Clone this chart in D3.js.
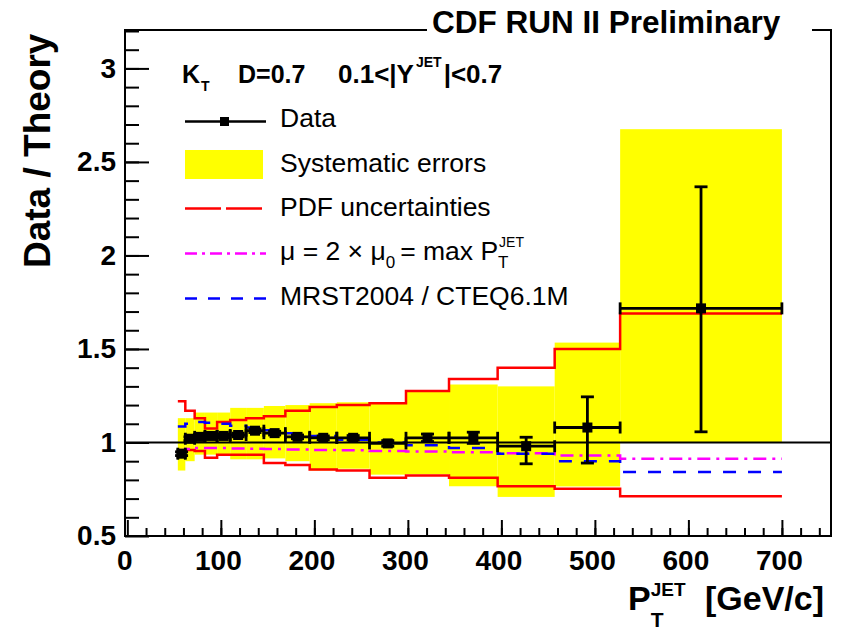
<!DOCTYPE html>
<html>
<head>
<meta charset="utf-8">
<script src="https://cdn.jsdelivr.net/npm/d3@7/dist/d3.min.js"></script>
<style>
  body { margin: 0; background: #fff; }
  svg { display: block; }
  text { font-family: "Liberation Sans", Arial, Helvetica, sans-serif; fill: #000; }
</style>
</head>
<body>
<div id="chart"></div>
<script>
// pT bin edges (GeV/c)
var binEdges = [54, 62, 72, 83, 96, 110, 127, 146, 169, 195, 224, 259, 298, 344, 396, 457, 527, 700];

// data / theory per bin
var dataRatio = [0.94, 1.02, 1.03, 1.035, 1.035, 1.04, 1.063, 1.05, 1.03, 1.025, 1.025, 0.995, 1.025, 1.025, 0.98, 1.08, 1.717];
var statUp    = [0.01, 0.01, 0.01, 0.01, 0.01, 0.01, 0.01, 0.01, 0.01, 0.01, 0.012, 0.015, 0.02, 0.03, 0.048, 0.164, 0.65];
var statDown  = [0.01, 0.01, 0.01, 0.01, 0.01, 0.01, 0.01, 0.01, 0.01, 0.01, 0.012, 0.015, 0.02, 0.03, 0.094, 0.19, 0.66];

// systematic error band
var sysLow  = [0.85, 0.90, 0.935, 0.935, 0.935, 0.91, 0.91, 0.915, 0.90, 0.85, 0.86, 0.828, 0.83, 0.766, 0.709, 0.765, 1.0];
var sysHigh = [1.13, 1.13, 1.16, 1.16, 1.16, 1.185, 1.185, 1.195, 1.20, 1.21, 1.215, 1.21, 1.27, 1.31, 1.30, 1.534, 2.675];

// PDF uncertainties
var pdfLow  = [0.955, 0.96, 0.955, 0.918, 0.935, 0.935, 0.935, 0.89, 0.88, 0.855, 0.85, 0.811, 0.823, 0.811, 0.766, 0.752, 0.712];
var pdfHigh = [1.22, 1.17, 1.13, 1.075, 1.11, 1.12, 1.13, 1.14, 1.17, 1.19, 1.20, 1.21, 1.275, 1.34, 1.40, 1.50, 1.69];

// mu = 2 x mu0 and MRST2004 / CTEQ6.1M
var scaleRatio = [0.96, 0.965, 0.97, 0.97, 0.97, 0.968, 0.966, 0.965, 0.963, 0.96, 0.958, 0.955, 0.952, 0.948, 0.942, 0.93, 0.913];
var mrstRatio  = [1.085, 1.10, 1.11, 1.105, 1.10, 1.09, 1.08, 1.065, 1.05, 1.035, 1.015, 1.0, 0.985, 0.97, 0.94, 0.90, 0.842];

var xTicks = [0, 100, 200, 300, 400, 500, 600, 700];
var yTicks = [0.5, 1, 1.5, 2, 2.5, 3];

var svgWidth = 848, svgHeight = 631;
var frame = { left: 125, top: 30, right: 831, bottom: 536 };

var svg = d3.select("#chart").append("svg")
  .attr("width", svgWidth)
  .attr("height", svgHeight);

var x = d3.scaleLinear().domain([-2.5, 752.5]).range([frame.left, frame.right]);
var y = d3.scaleLinear().domain([0.5, 3.2]).range([frame.bottom, 31]);

var nBins = binEdges.length - 1;
var bins = d3.range(nBins).map(function(i) {
  return {
    lo: binEdges[i], hi: binEdges[i + 1], mid: (binEdges[i] + binEdges[i + 1]) / 2,
    val: dataRatio[i], up: statUp[i], down: statDown[i],
    sysLo: sysLow[i], sysHi: sysHigh[i]
  };
});

// systematic band
svg.append("g").selectAll("rect")
  .data(bins)
  .enter()
  .append("rect")
  .attr("x", d => x(d.lo))
  .attr("width", d => x(d.hi) - x(d.lo))
  .attr("y", d => y(d.sysHi))
  .attr("height", d => y(d.sysLo) - y(d.sysHi))
  .attr("fill", "#ffff00");

// step line through the bins
function stepPath(vals) {
  var pts = vals.map((v, i) => [binEdges[i], v]);
  pts.push([binEdges[nBins], vals[nBins - 1]]);
  return d3.line().x(d => x(d[0])).y(d => y(d[1])).curve(d3.curveStepAfter)(pts);
}

[pdfLow, pdfHigh].forEach(function(vals) {
  svg.append("path").attr("d", stepPath(vals))
    .attr("fill", "none").attr("stroke", "#ff0000").attr("stroke-width", 2.5);
});

svg.append("path").attr("d", stepPath(scaleRatio))
  .attr("fill", "none").attr("stroke", "#ff00ff").attr("stroke-width", 2.5)
  .attr("stroke-dasharray", "13,6,3,6");

svg.append("path").attr("d", stepPath(mrstRatio))
  .attr("fill", "none").attr("stroke", "#0000ff").attr("stroke-width", 2.5)
  .attr("stroke-dasharray", "13,12");

// line at 1
svg.append("line")
  .attr("x1", frame.left).attr("x2", frame.right)
  .attr("y1", y(1)).attr("y2", y(1))
  .attr("stroke", "#000").attr("stroke-width", 2);

// data points with errors
var pts = svg.append("g").selectAll("g")
  .data(bins)
  .enter()
  .append("g")
  .attr("stroke", "#000")
  .attr("stroke-width", 2.8);

pts.append("line")
  .attr("x1", d => x(d.lo)).attr("x2", d => x(d.hi))
  .attr("y1", d => y(d.val)).attr("y2", d => y(d.val));
pts.append("line")
  .attr("x1", d => x(d.lo)).attr("x2", d => x(d.lo))
  .attr("y1", d => y(d.val) - 6).attr("y2", d => y(d.val) + 6);
pts.append("line")
  .attr("x1", d => x(d.hi)).attr("x2", d => x(d.hi))
  .attr("y1", d => y(d.val) - 6).attr("y2", d => y(d.val) + 6);
pts.append("line")
  .attr("x1", d => x(d.mid)).attr("x2", d => x(d.mid))
  .attr("y1", d => y(d.val + d.up)).attr("y2", d => y(d.val - d.down));
pts.append("line")
  .attr("x1", d => x(d.mid) - 6.5).attr("x2", d => x(d.mid) + 6.5)
  .attr("y1", d => y(d.val + d.up)).attr("y2", d => y(d.val + d.up));
pts.append("line")
  .attr("x1", d => x(d.mid) - 6.5).attr("x2", d => x(d.mid) + 6.5)
  .attr("y1", d => y(d.val - d.down)).attr("y2", d => y(d.val - d.down));
pts.append("rect")
  .attr("x", d => x(d.mid) - 5).attr("y", d => y(d.val) - 5)
  .attr("width", 10).attr("height", 10)
  .attr("stroke", "none").attr("fill", "#000");

// axes, ticks pointing inward
var tickFont = function(g) {
  g.select(".domain").remove();
  g.selectAll(".tick line").attr("stroke", "#000").attr("stroke-width", 2);
  g.selectAll("text").attr("font-size", 28).attr("font-weight", "bold")
    .attr("font-family", "\"Liberation Sans\", Arial, sans-serif").attr("fill", "#000");
};

svg.append("g")
  .attr("transform", `translate(${frame.left},0)`)
  .call(d3.axisLeft(y).tickValues(d3.range(0.6, 3.21, 0.1)).tickSize(-14).tickFormat(""))
  .call(tickFont);
svg.append("g")
  .attr("transform", `translate(${frame.left},0)`)
  .call(d3.axisLeft(y).tickValues(yTicks).tickSize(-24).tickPadding(9).tickFormat(d3.format("")))
  .call(tickFont);

svg.append("g")
  .attr("transform", `translate(0,${frame.bottom})`)
  .call(d3.axisBottom(x).tickValues(d3.range(20, 750, 20)).tickSize(-8).tickFormat(""))
  .call(tickFont);
svg.append("g")
  .attr("transform", `translate(0,${frame.bottom})`)
  .call(d3.axisBottom(x).tickValues(xTicks).tickSize(-16).tickPadding(14))
  .call(tickFont)
  .selectAll("text").attr("dx", -3);

// frame
svg.append("rect")
  .attr("x", frame.left).attr("y", frame.top)
  .attr("width", frame.right - frame.left).attr("height", frame.bottom - frame.top)
  .attr("fill", "none").attr("stroke", "#000").attr("stroke-width", 2);

// title box over the top edge
svg.append("rect").attr("x", 427).attr("y", 20).attr("width", 385).attr("height", 16).attr("fill", "#fff");
svg.append("text").attr("x", 432).attr("y", 33)
  .attr("font-size", 31.5).attr("font-weight", "bold")
  .text("CDF RUN II Preliminary");

// helper for text with sub/superscripts, returns the x after the text
function put(x0, y0, str, size, weight) {
  var t = svg.append("text").attr("x", x0).attr("y", y0)
    .attr("font-size", size).attr("font-weight", weight || "normal").text(str);
  return x0 + t.node().getComputedTextLength();
}

// header
var cx = put(182, 83, "K", 25, "bold");
put(cx + 1, 91, "T", 14, "bold");
put(238, 83, "D=0.7", 25, "bold");
cx = put(338, 83, "0.1<|Y", 26, "bold");
cx = put(cx + 2, 67, "JET", 14, "bold");
put(cx + 2, 83, "|<0.7", 26, "bold");

// y title
svg.append("text")
  .attr("transform", "translate(50,268) rotate(-90)")
  .attr("font-size", 37).attr("font-weight", "bold")
  .text("Data / Theory");

// x title
cx = put(628, 610, "P", 34, "bold");
put(cx, 627, "T", 21, "bold");
put(cx, 596, "JET", 19, "bold");
put(705, 610, "[GeV/c]", 34, "bold");

// legend
var legendX = 280;
var leg = svg.append("g");
leg.append("line").attr("x1", 185).attr("x2", 266).attr("y1", 121.5).attr("y2", 121.5)
  .attr("stroke", "#000").attr("stroke-width", 2.5);
leg.append("rect").attr("x", 220).attr("y", 117).attr("width", 9).attr("height", 9).attr("fill", "#000");
put(legendX, 127, "Data", 26.5);

leg.append("rect").attr("x", 185).attr("y", 150).attr("width", 78).attr("height", 29).attr("fill", "#ffff00");
put(legendX, 172, "Systematic errors", 26.5);

leg.append("line").attr("x1", 185).attr("x2", 266).attr("y1", 208.5).attr("y2", 208.5)
  .attr("stroke", "#ff0000").attr("stroke-width", 2.5).attr("stroke-dasharray", "36,5");
put(legendX, 216, "PDF uncertainties", 26.5);

leg.append("line").attr("x1", 185).attr("x2", 266).attr("y1", 253.5).attr("y2", 253.5)
  .attr("stroke", "#ff00ff").attr("stroke-width", 2.5).attr("stroke-dasharray", "12,5,3,5");
cx = put(legendX, 260, "\u03bc = 2 \u00d7 \u03bc", 26.5);
cx = put(cx, 268, "0", 17);
cx = put(cx + 5, 260, "= max P", 26.5);
put(cx, 268, "T", 17);
put(cx + 1, 247, "JET", 14);

leg.append("line").attr("x1", 185).attr("x2", 266).attr("y1", 298.5).attr("y2", 298.5)
  .attr("stroke", "#0000ff").attr("stroke-width", 2.5).attr("stroke-dasharray", "12,11");
put(legendX, 305, "MRST2004 / CTEQ6.1M", 26.5);
</script>
</body>
</html>
